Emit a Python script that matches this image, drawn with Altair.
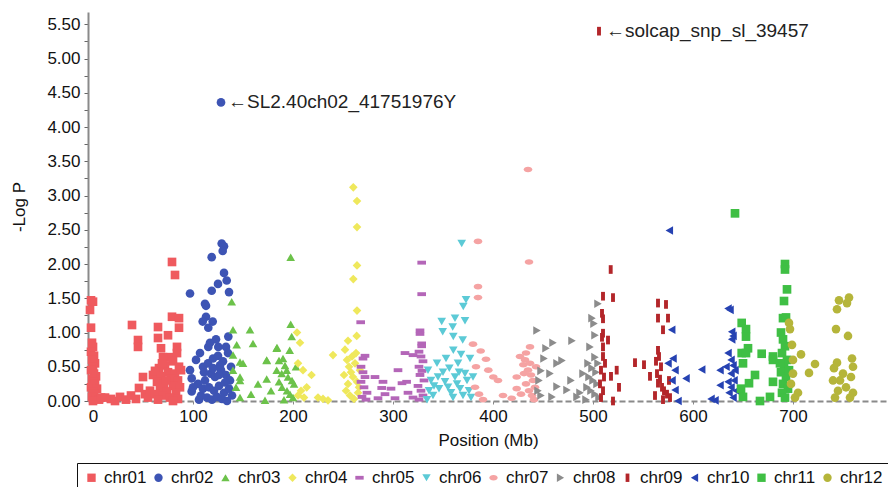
import altair as alt
import pandas as pd

chromosomes = ["chr01", "chr02", "chr03", "chr04", "chr05", "chr06",
               "chr07", "chr08", "chr09", "chr10", "chr11", "chr12"]
colors = ["#ef5a5e", "#3d54b4", "#6cc24a", "#efe85c", "#b466b8", "#5ccad6",
          "#f5a3a3", "#8c8c8c", "#b3262a", "#2642b2", "#3fbf44", "#b5b53a"]
shapes = ["square", "circle", "triangle-up", "diamond",
          "M-1,-0.45L1,-0.45L1,0.45L-1,0.45Z", "triangle-down",
          "M-1,0A1,0.65 0 1,1 1,0A1,0.65 0 1,1 -1,0Z", "triangle-right",
          "M-0.45,-1L0.45,-1L0.45,1L-0.45,1Z", "triangle-left",
          "square", "circle"]

chr01_pos = [-2, 0, -3, -2, -1, 0, -2, 1, -1, 2, 0, -2, 1, 3, -1, 0, 2, -2, 4, 0, 1, -1, 3, 6, 0, 8,
             12, 18, 22, 27, 33, 38, 43, 46, 50, 45, 45, 39, 52, 55, 57,
             79, 82, 79, 86, 65, 86, 75, 65, 68, 84, 77, 70, 60, 84, 80, 72, 66, 86, 62, 75, 82, 68,
             78, 85, 64, 71, 80, 87, 67, 74, 83, 62, 70, 77, 85, 65, 80, 73, 69, 88]
chr01_val = [1.47, 1.45, 1.33, 1.07, 0.85, 0.79, 0.72, 0.66, 0.60, 0.55, 0.50, 0.45, 0.40, 0.36, 0.32,
             0.28, 0.25, 0.20, 0.18, 0.14, 0.10, 0.06, 0.04, 0.02, 0.00, 0.05,
             0.05, 0.03, 0.00, 0.06, 0.02, 0.08, 0.03, 0.19, 0.35, 0.89, 0.79, 1.11, 0.10, 0.05, 0.15,
             2.03, 1.84, 1.23, 1.21, 1.08, 1.07, 0.96, 0.92, 0.77, 0.79, 0.64, 0.64, 0.38, 0.70, 0.58,
             0.52, 0.48, 0.50, 0.44, 0.42, 0.40, 0.36, 0.33, 0.30, 0.28, 0.25, 0.22, 0.20, 0.17, 0.14,
             0.12, 0.10, 0.08, 0.05, 0.03, 0.02, 0.00, 0.30, 0.55, 0.45]

chr02_pos = [128, 128.7, 131, 129.7, 118.7, 131, 133.7, 125, 136, 118.7, 97, 112, 113, 113, 109.7, 119.7,
             115.3, 135.3, 115.3, 125.3, 107, 133, 98.7, 106, 97, 98.7, 103, 110, 115, 120, 125, 130,
             135, 138, 112, 118, 122, 128, 133, 137, 105, 110, 116, 121, 126, 131, 136, 108, 114, 119,
             124, 129, 134, 139, 117, 123, 127, 132, 120, 126, 111, 100]
chr02_val = [4.36, 2.30, 2.26, 2.19, 2.10, 1.87, 1.76, 1.71, 1.59, 1.61, 1.57, 1.42, 1.39, 1.23, 1.16, 1.16,
             1.07, 0.94, 0.79, 0.79, 0.70, 0.79, 0.14, 0.02, 0.45, 0.33, 0.60, 0.50, 0.55, 0.62, 0.66, 0.58,
             0.70, 0.50, 0.30, 0.40, 0.35, 0.45, 0.38, 0.30, 0.25, 0.18, 0.20, 0.15, 0.22, 0.12, 0.18, 0.08,
             0.05, 0.02, 0.06, 0.03, 0.00, 0.08, 0.85, 0.90, 0.52, 0.27, 0.48, 0.38, 0.42, 0.20]

chr03_pos = [138.7, 140, 157, 160, 143.7, 140, 150, 173.7, 183.7, 183.7, 140, 147, 143, 147, 197.7,
             197.7, 198.7, 184, 196.7, 186, 173.7, 193.7, 173.7, 188.7, 147, 147, 172, 190, 192, 195,
             199, 201, 189, 194, 197, 200, 191, 203, 186, 165, 158, 178]
chr03_val = [1.45, 1.04, 1.04, 0.84, 0.82, 0.67, 0.55, 0.60, 0.77, 0.45, 0.45, 0.35, 0.20, 0.05, 2.10,
             1.12, 0.94, 0.78, 0.74, 0.59, 0.59, 0.45, 0.32, 0.40, 0.57, 0.30, 0.01, 0.62, 0.52, 0.35,
             0.30, 0.25, 0.20, 0.15, 0.10, 0.05, 0.02, 0.50, 0.28, 0.25, 0.10, 0.15]

chr04_pos = [260.3, 264, 264, 264, 260.3, 264, 263.7, 255, 204, 207, 240, 218.5, 213.7, 205, 225, 235,
             205, 210, 252, 254, 256, 258, 260, 262, 264, 266, 253, 257, 261, 265, 255, 259, 263, 251,
             267, 208, 211, 230]
chr04_val = [3.12, 2.92, 2.54, 1.98, 1.78, 1.32, 0.95, 0.88, 1.00, 0.85, 0.67, 0.38, 0.20, 0.08, 0.05,
             0.01, 0.55, 0.45, 0.75, 0.60, 0.50, 0.42, 0.35, 0.55, 0.28, 0.20, 0.15, 0.08, 0.03, 0.12,
             0.25, 0.65, 0.70, 0.38, 0.45, 0.15, 0.05, 0.03]

chr05_pos = [328.7, 328.7, 267.7, 327, 327, 328.7, 328.7, 312, 320, 272, 270, 305, 282, 290, 313.6, 309,
             288.7, 285, 302, 268, 270, 272, 268, 271, 274, 269, 273, 326, 328, 330, 326, 329, 327, 331,
             325, 328, 330, 326, 292, 298, 315, 320]
chr05_val = [2.02, 1.56, 1.15, 1.03, 0.98, 0.84, 0.80, 0.70, 0.67, 0.66, 0.62, 0.45, 0.35, 0.28, 0.28,
             0.26, 0.19, 0.04, 0.04, 0.50, 0.42, 0.35, 0.28, 0.20, 0.12, 0.06, 0.02, 0.72, 0.65, 0.58,
             0.50, 0.44, 0.38, 0.30, 0.22, 0.15, 0.08, 0.02, 0.10, 0.18, 0.12, 0.05]

chr06_pos = [368.7, 373, 370.3, 362, 348.7, 372, 349.7, 359.7, 360.3, 369.7, 360.3, 377, 356.3, 365, 345,
             372, 335, 338, 336, 334, 340, 344, 350, 352, 355, 358, 362, 364, 367, 370, 374, 376, 378,
             346, 341, 366, 360, 380, 353, 368]
chr06_val = [2.30, 1.48, 1.38, 1.21, 1.16, 1.17, 1.01, 1.08, 0.94, 0.89, 0.74, 0.62, 0.48, 0.55, 0.35,
             0.40, 0.45, 0.30, 0.15, 0.02, 0.08, 0.55, 0.42, 0.28, 0.20, 0.12, 0.35, 0.25, 0.18, 0.08,
             0.30, 0.15, 0.05, 0.18, 0.22, 0.42, 0.05, 0.35, 0.62, 0.68]

chr07_pos = [435, 385, 436, 385, 385, 380, 387.7, 393, 395.3, 383, 400.3, 405, 427, 437, 433, 430.3,
             423.7, 423.7, 418.7, 382, 386, 390, 410, 432, 435, 438, 440, 433, 436, 439, 441, 431, 443,
             428, 437, 442]
chr07_val = [3.38, 2.33, 2.03, 1.67, 1.51, 0.83, 0.73, 0.61, 0.45, 0.50, 0.35, 0.30, 0.65, 0.79, 0.70,
             0.53, 0.35, 0.18, 0.04, 0.20, 0.10, 0.02, 0.08, 0.60, 0.45, 0.38, 0.30, 0.25, 0.15, 0.08,
             0.02, 0.40, 0.50, 0.10, 0.55, 0.20]

chr08_pos = [444, 460, 479, 453, 469, 464, 448, 457, 446, 464, 474, 484, 459, 448, 505, 499, 501, 502,
             497, 502, 495, 499, 503, 496, 500, 504, 494, 498, 502, 506, 493, 505, 490, 451, 445, 478, 487]
chr08_val = [1.03, 0.85, 0.88, 0.77, 0.59, 0.55, 0.44, 0.40, 0.30, 0.21, 0.16, 0.06, 0.06, 0.08, 1.42,
             1.21, 1.13, 0.96, 0.79, 0.64, 0.55, 0.48, 0.42, 0.35, 0.30, 0.25, 0.20, 0.15, 0.10, 0.05,
             0.02, 0.55, 0.40, 0.62, 0.15, 0.30, 0.12]

chr09_pos = [506, 517.7, 510, 520, 509, 510, 510, 509, 515, 510, 523.7, 518, 526, 520, 542, 551, 557, 565,
             573, 565, 575, 570, 565, 566, 568, 565, 569, 510, 512, 508, 511, 507, 510, 508, 564, 567,
             571, 574, 562, 577, 570, 563, 576]
chr09_val = [5.40, 1.92, 1.53, 1.51, 1.28, 1.20, 0.99, 0.93, 0.89, 0.79, 0.45, 0.36, 0.20, 0.00, 0.56,
             0.53, 0.36, 1.43, 1.41, 1.21, 1.21, 1.04, 0.74, 0.65, 0.50, 0.26, 0.20, 0.65, 0.55, 0.45,
             0.35, 0.25, 0.15, 0.05, 0.40, 0.32, 0.15, 0.10, 0.08, 0.05, 0.02, 0.58, 0.30]

chr10_pos = [576.3, 578.7, 580, 582, 582, 593, 608.7, 622, 618, 627, 627, 635, 637, 638.7, 638.7, 640,
             635, 638, 640, 638, 641, 638, 636, 640, 642, 575, 579, 585, 633, 635, 643]
chr10_val = [2.49, 1.04, 0.62, 0.45, 0.16, 0.33, 0.46, 0.01, 0.03, 0.45, 0.23, 1.35, 1.33, 1.01, 0.90,
             0.95, 0.70, 0.60, 0.52, 0.40, 0.30, 0.20, 0.12, 0.05, 0.45, 0.55, 0.30, 0.00, 0.50, 0.28, 0.15]

chr11_pos = [642, 692, 692, 694, 691, 690, 693, 648.7, 653, 653, 655, 648.7, 653, 668.7, 680, 680, 650,
             662, 680, 656, 677, 667, 648, 650, 688, 690, 692, 689, 694, 691, 688, 693, 690, 695, 689,
             692, 696, 687]
chr11_val = [2.74, 2.00, 1.92, 1.63, 1.46, 1.21, 1.22, 1.14, 1.05, 0.94, 0.77, 0.70, 0.70, 0.69, 0.65,
             0.60, 0.55, 0.38, 0.28, 0.26, 0.06, 0.00, 0.18, 0.06, 1.00, 0.90, 0.80, 0.70, 0.60, 0.50,
             0.42, 0.35, 0.25, 0.18, 0.12, 0.05, 0.45, 0.55]

chr12_pos = [756, 746, 754, 744, 743, 755, 696, 697, 708, 722, 716, 700, 700, 705, 744, 759, 741, 747,
             760, 740, 753, 760, 757, 745, 742, 750, 758, 698, 702, 699]
chr12_val = [1.51, 1.47, 1.43, 1.34, 1.05, 0.95, 1.14, 1.05, 0.68, 0.54, 0.41, 0.60, 0.40, 0.12, 0.56,
             0.62, 0.48, 0.30, 0.50, 0.30, 0.20, 0.12, 0.05, 0.15, 0.05, 0.40, 0.35, 0.25, 0.05, 0.82]

annot_labels = ["←SL2.40ch02_41751976Y", "←solcap_snp_sl_39457"]
annot_pos = [128, 506]
annot_val = [4.36, 5.40]

y_ticks = [k / 4 for k in range(0, 23)]
x_ticks = [0, 100, 200, 300, 400, 500, 600, 700]

series = [
    (chr01_pos, chr01_val), (chr02_pos, chr02_val), (chr03_pos, chr03_val),
    (chr04_pos, chr04_val), (chr05_pos, chr05_val), (chr06_pos, chr06_val),
    (chr07_pos, chr07_val), (chr08_pos, chr08_val), (chr09_pos, chr09_val),
    (chr10_pos, chr10_val), (chr11_pos, chr11_val), (chr12_pos, chr12_val),
]
rows = []
for name, (ps, vs) in zip(chromosomes, series):
    for p, v in zip(ps, vs):
        rows.append({"chr": name, "pos": p, "logp": v})
df = pd.DataFrame(rows)
ann = pd.DataFrame({"label": annot_labels, "pos": annot_pos, "logp": annot_val})

FONT = "Liberation Sans"

x_enc = alt.X("pos:Q", title="Position (Mb)",
              scale=alt.Scale(domain=[-5, 795], nice=False, zero=False),
              axis=alt.Axis(values=x_ticks, format="d", grid=False,
                            domainDash=[6, 3], domainColor="#8a8a8a", domainWidth=2,
                            tickColor="#8a8a8a", tickSize=3, labelPadding=4,
                            labelFontSize=17, titleFontSize=17, titlePadding=8,
                            labelColor="#111", titleColor="#111", titleFontWeight="normal",
                            labelFont=FONT, titleFont=FONT))
y_enc = alt.Y("logp:Q", title="-Log P",
              scale=alt.Scale(domain=[0, 5.68], nice=False, zero=False),
              axis=alt.Axis(values=y_ticks, grid=False, labelOverlap=False,
                            labelExpr="(datum.value * 4) % 2 == 0 ? format(datum.value, '.2f') : ''",
                            domainColor="#8a8a8a", domainWidth=2,
                            tickColor="#666", tickSize=4, labelPadding=4,
                            labelFontSize=17, titleFontSize=17, titlePadding=18,
                            labelColor="#111", titleColor="#111", titleFontWeight="normal",
                            labelFont=FONT, titleFont=FONT))

points = alt.Chart(df).mark_point(filled=True, size=75, opacity=1, clip=False).encode(
    x=x_enc,
    y=y_enc,
    color=alt.Color("chr:N", scale=alt.Scale(domain=chromosomes, range=colors),
                    legend=alt.Legend(title=None, orient="none", legendX=-11, legendY=451,
                                      direction="horizontal", columns=12,
                                      strokeColor="#111", padding=6,
                                      labelFontSize=17, labelFont=FONT, labelColor="#111",
                                      symbolSize=70, labelOffset=4, columnPadding=3,
                                      symbolStrokeWidth=0, symbolOpacity=1)),
    shape=alt.Shape("chr:N", scale=alt.Scale(domain=chromosomes, range=shapes), legend=None),
)

labels = alt.Chart(ann).mark_text(align="left", baseline="middle", dx=7, fontSize=19,
                                   font=FONT, color="#222").encode(
    x=x_enc, y=y_enc, text="label:N")

chart = alt.layer(points, labels).properties(
    width=800, height=389,
    autosize=alt.AutoSizeParams(type="none"),
    padding={"left": 80, "top": 4, "right": 0, "bottom": 88},
).configure_view(stroke=None)

chart.save("out.html", embed_options={"renderer": "svg", "actions": False})
